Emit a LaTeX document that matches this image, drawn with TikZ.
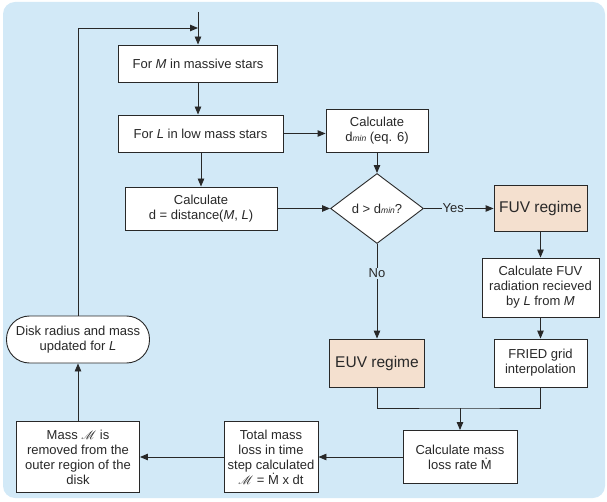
\documentclass[tikz,border=0pt]{standalone}
\usepackage{fontspec}
\setmainfont{Liberation Sans}
\usepackage{amsmath}
\usepackage{mathrsfs}
\usepackage{tikz}
\usetikzlibrary{shapes,arrows.meta,calc}
\usepackage{xcolor}
\definecolor{bgblue}{RGB}{210,233,247}
\definecolor{regime}{RGB}{244,224,207}
\definecolor{ink}{RGB}{40,40,40}
\newcommand{\dmintext}{{\fontsize{8.5}{10}\selectfont\itshape min}}
\newcommand{\mdot}{\.{M}}

\begin{document}
\begin{tikzpicture}[x=1pt, y=-1pt, >={Triangle[length=8pt,width=6.5pt]},
  box/.style={draw=ink, line width=0.9pt, fill=white, align=center, inner sep=1pt, text=ink, font=\fontsize{13}{15}\selectfont},
  regimebox/.style={box, fill=regime, font=\fontsize{15.5}{18}\selectfont},
  decision/.style={box, diamond, aspect=1.33, inner sep=0pt},
  link/.style={draw=ink, line width=0.9pt},
  tag/.style={fill=bgblue, inner sep=1pt, text=ink, font=\fontsize{13}{15}\selectfont}]
\useasboundingbox (0,0) rectangle (607,502);
\fill[bgblue, rounded corners=12pt] (3,2) rectangle (605,498);

\node[box, minimum width=159pt, minimum height=37pt] (mstar) at (198,63.5) {For \textit{M} in massive stars};
\node[box, minimum width=165pt, minimum height=37pt] (lstar) at (200.5,133.5) {For \textit{L} in low mass stars};
\node[box, minimum width=152pt, minimum height=43pt] (dist) at (201,208.5) {Calculate\\d = distance(\textit{M}, \textit{L})};
\node[box, minimum width=102pt, minimum height=43pt] (dmin) at (377,130.5) {Calculate\\d\dmintext{} (eq. 6)};
\node[decision, minimum width=93pt, minimum height=70pt] (test) at (377,208.5) {d > d\dmintext?};
\node[regimebox, minimum width=93pt, minimum height=46pt] (fuv) at (540.5,208.5) {FUV regime};
\node[box, minimum width=117pt, minimum height=59pt] (fuvrad) at (540.5,287.5) {Calculate FUV\\radiation recieved\\by \textit{L} from \textit{M}};
\node[box, minimum width=93pt, minimum height=48pt] (fried) at (540.5,363) {FRIED grid\\interpolation};
\node[regimebox, minimum width=95pt, minimum height=48pt] (euv) at (377,363) {EUV regime};
\node[box, minimum width=114pt, minimum height=53pt] (mloss) at (460,457) {Calculate mass\\loss rate \mdot};
\node[box, minimum width=94pt, minimum height=71pt] (total) at (271,457) {Total mass\\loss in time\\step calculated\\$\mathscr{M}$ = \mdot{} x dt};
\node[box, minimum width=123pt, minimum height=71pt] (mass) at (78,457) {Mass $\mathscr{M}$ is\\removed from the\\outer region of the\\disk};
\node[box, rounded corners=23pt, minimum width=143pt, minimum height=47pt] (disk) at (78,339.5) {Disk radius and mass\\updated for \textit{L}};

\coordinate (entry) at (198,12);
\coordinate (loop) at (198,28);
\coordinate (merge) at (460,408);

\draw[link, ->] (entry) -- (mstar);
\draw[link, ->] (disk) |- (loop);
\draw[link, ->] (mstar) -- (mstar |- lstar.north);
\draw[link, ->] (lstar.south -| dist) -- (dist);
\draw[link, ->] (lstar) -- (lstar -| dmin.west);
\draw[link, ->] (dist) -- (test);
\draw[link, ->] (dmin) -- (test);
\draw[link, ->] (test) -- node[tag, pos=0.42] (yes) {Yes} (fuv);
\draw[link, ->] (test) -- node[tag, pos=0.31] (no) {No} (euv);
\draw[link, ->] (fuv) -- (fuvrad);
\draw[link, ->] (fuvrad) -- (fried);
\draw[link] (euv) |- (merge) -| (fried);
\draw[link, ->] (merge) -- (mloss);
\draw[link, ->] (mloss) -- (total);
\draw[link, ->] (total) -- (mass);
\draw[link, ->] (mass) -- (disk);
\end{tikzpicture}
\end{document}
